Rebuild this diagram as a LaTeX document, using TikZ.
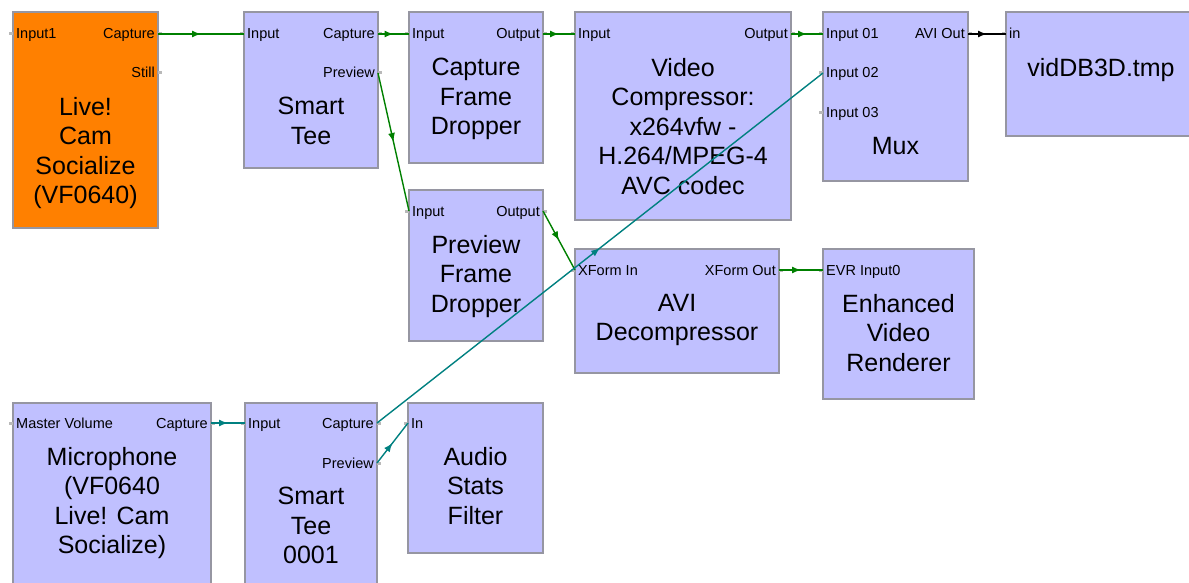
\documentclass[tikz,border=0pt]{standalone}
\usepackage{fontspec}
\setmainfont{Liberation Sans}
\usetikzlibrary{arrows.meta,decorations.markings,calc}

\definecolor{filterfill}{RGB}{192,192,255}
\definecolor{sourcefill}{RGB}{255,128,0}
\definecolor{boxedge}{RGB}{150,150,162}
\definecolor{videolink}{RGB}{0,128,0}
\definecolor{audiolink}{RGB}{0,128,128}

\tikzset{
	filterbox/.style={draw=boxedge, line width=1.2pt, fill=filterfill, anchor=north west, inner sep=0pt, outer sep=0pt},
	portlabel/.style={font=\fontsize{14.5}{16}\selectfont, inner sep=0pt},
	inlabel/.style={portlabel, anchor=base west},
	outlabel/.style={portlabel, anchor=base east},
	filtername/.style={font=\fontsize{25}{29.5}\selectfont, align=center, anchor=north, inner sep=0pt},
	portstub/.style={draw=gray!55, line width=3pt},
	link/.style={line width=1.4pt, postaction={decorate},
		decoration={markings, mark=at position 0.5 with {\arrow{Latex[length=9pt,width=7pt]}}}},
}

\begin{document}
\begin{tikzpicture}[x=1pt, y=-1pt]
	\useasboundingbox (0,0) rectangle (1189,583);
	\clip (0,0) rectangle (1189,583);

	% filters (top left corner, size)
	\node[filterbox, fill=sourcefill, minimum width=145pt, minimum height=216pt] (cam) at (13,12) {};
	\node[filterbox, minimum width=134pt, minimum height=156pt] (tee) at (244,12) {};
	\node[filterbox, minimum width=134pt, minimum height=151pt] (cfd) at (409,12) {};
	\node[filterbox, minimum width=216pt, minimum height=208pt] (vc) at (575,12) {};
	\node[filterbox, minimum width=145pt, minimum height=169pt] (mux) at (823,12) {};
	\node[filterbox, minimum width=200pt, minimum height=124pt] (file) at (1006,12) {};
	\node[filterbox, minimum width=134pt, minimum height=151pt] (pfd) at (409,190) {};
	\node[filterbox, minimum width=204pt, minimum height=124pt] (avi) at (575,249) {};
	\node[filterbox, minimum width=151pt, minimum height=150pt] (evr) at (823,249) {};
	\node[filterbox, minimum width=198pt, minimum height=200pt] (mic) at (13,403) {};
	\node[filterbox, minimum width=132pt, minimum height=200pt] (teeb) at (245,403) {};
	\node[filterbox, minimum width=135pt, minimum height=150pt] (stats) at (408,403) {};

	% pins
	\coordinate (cam-in) at ([yshift=-22pt]cam.north west);
	\coordinate (cam-cap) at ([yshift=-22pt]cam.north east);
	\coordinate (cam-still) at ([yshift=-61pt]cam.north east);
	\coordinate (tee-in) at ([yshift=-22pt]tee.north west);
	\coordinate (tee-cap) at ([yshift=-22pt]tee.north east);
	\coordinate (tee-prev) at ([yshift=-61pt]tee.north east);
	\coordinate (cfd-in) at ([yshift=-22pt]cfd.north west);
	\coordinate (cfd-out) at ([yshift=-22pt]cfd.north east);
	\coordinate (vc-in) at ([yshift=-22pt]vc.north west);
	\coordinate (vc-out) at ([yshift=-22pt]vc.north east);
	\coordinate (mux-in1) at ([yshift=-22pt]mux.north west);
	\coordinate (mux-in2) at ([yshift=-61pt]mux.north west);
	\coordinate (mux-in3) at ([yshift=-101pt]mux.north west);
	\coordinate (mux-out) at ([yshift=-22pt]mux.north east);
	\coordinate (file-in) at ([yshift=-22pt]file.north west);
	\coordinate (pfd-in) at ([yshift=-21pt]pfd.north west);
	\coordinate (pfd-out) at ([yshift=-21pt]pfd.north east);
	\coordinate (avi-in) at ([yshift=-21pt]avi.north west);
	\coordinate (avi-out) at ([yshift=-21pt]avi.north east);
	\coordinate (evr-in) at ([yshift=-21pt]evr.north west);
	\coordinate (mic-in) at ([yshift=-20pt]mic.north west);
	\coordinate (mic-cap) at ([yshift=-20pt]mic.north east);
	\coordinate (teeb-in) at ([yshift=-20pt]teeb.north west);
	\coordinate (teeb-cap) at ([yshift=-20pt]teeb.north east);
	\coordinate (teeb-prev) at ([yshift=-60pt]teeb.north east);
	\coordinate (stats-in) at ([yshift=-20pt]stats.north west);

	\foreach \p in {cam-in, tee-in, cfd-in, vc-in, mux-in1, mux-in2, mux-in3, file-in,
		pfd-in, avi-in, evr-in, mic-in, teeb-in, stats-in}
		\draw[portstub] (\p) -- ++(-4,0);
	\foreach \p in {cam-cap, cam-still, tee-cap, tee-prev, cfd-out, vc-out, mux-out,
		pfd-out, avi-out, mic-cap, teeb-cap, teeb-prev}
		\draw[portstub] (\p) -- ++(4,0);

	% pin labels
	\node[inlabel] (cam-in-l) at ([xshift=3pt,yshift=-5pt]cam-in) {Input1};
	\node[outlabel] (cam-cap-l) at ([xshift=-3pt,yshift=-5pt]cam-cap) {Capture};
	\node[outlabel] (cam-still-l) at ([xshift=-3pt,yshift=-5pt]cam-still) {Still};
	\node[inlabel] (tee-in-l) at ([xshift=3pt,yshift=-5pt]tee-in) {Input};
	\node[outlabel] (tee-cap-l) at ([xshift=-3pt,yshift=-5pt]tee-cap) {Capture};
	\node[outlabel] (tee-prev-l) at ([xshift=-3pt,yshift=-5pt]tee-prev) {Preview};
	\node[inlabel] (cfd-in-l) at ([xshift=3pt,yshift=-5pt]cfd-in) {Input};
	\node[outlabel] (cfd-out-l) at ([xshift=-3pt,yshift=-5pt]cfd-out) {Output};
	\node[inlabel] (vc-in-l) at ([xshift=3pt,yshift=-5pt]vc-in) {Input};
	\node[outlabel] (vc-out-l) at ([xshift=-3pt,yshift=-5pt]vc-out) {Output};
	\node[inlabel] (mux-in1-l) at ([xshift=3pt,yshift=-5pt]mux-in1) {Input 01};
	\node[inlabel] (mux-in2-l) at ([xshift=3pt,yshift=-5pt]mux-in2) {Input 02};
	\node[inlabel] (mux-in3-l) at ([xshift=3pt,yshift=-5pt]mux-in3) {Input 03};
	\node[outlabel] (mux-out-l) at ([xshift=-3pt,yshift=-5pt]mux-out) {AVI Out};
	\node[inlabel] (file-in-l) at ([xshift=3pt,yshift=-5pt]file-in) {in};
	\node[inlabel] (pfd-in-l) at ([xshift=3pt,yshift=-5pt]pfd-in) {Input};
	\node[outlabel] (pfd-out-l) at ([xshift=-3pt,yshift=-5pt]pfd-out) {Output};
	\node[inlabel] (avi-in-l) at ([xshift=3pt,yshift=-5pt]avi-in) {XForm In};
	\node[outlabel] (avi-out-l) at ([xshift=-3pt,yshift=-5pt]avi-out) {XForm Out};
	\node[inlabel] (evr-in-l) at ([xshift=3pt,yshift=-5pt]evr-in) {EVR Input0};
	\node[inlabel] (mic-in-l) at ([xshift=3pt,yshift=-5pt]mic-in) {Master Volume};
	\node[outlabel] (mic-cap-l) at ([xshift=-3pt,yshift=-5pt]mic-cap) {Capture};
	\node[inlabel] (teeb-in-l) at ([xshift=3pt,yshift=-5pt]teeb-in) {Input};
	\node[outlabel] (teeb-cap-l) at ([xshift=-3pt,yshift=-5pt]teeb-cap) {Capture};
	\node[outlabel] (teeb-prev-l) at ([xshift=-3pt,yshift=-5pt]teeb-prev) {Preview};
	\node[inlabel] (stats-in-l) at ([xshift=3pt,yshift=-5pt]stats-in) {In};

	% filter names, just under the last pin row
	\node[filtername] (cam-t) at ($(cam.north |- cam-still) + (0,24)$) {Live!\\Cam\\Socialize\\(VF0640)};
	\node[filtername] (tee-t) at ($(tee.north |- tee-prev) + (0,24)$) {Smart\\Tee};
	\node[filtername] (cfd-t) at ($(cfd.north |- cfd-out) + (0,24)$) {Capture\\Frame\\Dropper};
	\node[filtername] (vc-t) at ($(vc.north |- vc-out) + (0,24)$) {Video\\Compressor:\\x264vfw -\\H.264/MPEG-4\\AVC codec};
	\node[filtername] (mux-t) at ($(mux.north |- mux-in3) + (0,24)$) {Mux};
	\node[filtername] (file-t) at ($(file.north |- file-in) + (-5,24)$) {vidDB3D.tmp};
	\node[filtername] (pfd-t) at ($(pfd.north |- pfd-out) + (0,24)$) {Preview\\Frame\\Dropper};
	\node[filtername] (avi-t) at ($(avi.north |- avi-out) + (0,24)$) {AVI\\Decompressor};
	\node[filtername] (evr-t) at ($(evr.north |- evr-in) + (0,24)$) {Enhanced\\Video\\Renderer};
	\node[filtername] (mic-t) at ($(mic.north |- mic-cap) + (0,24)$) {Microphone\\(VF0640\\Live! Cam\\Socialize)};
	\node[filtername] (teeb-t) at ($(teeb.north |- teeb-prev) + (0,24)$) {Smart\\Tee\\0001};
	\node[filtername] (stats-t) at ($(stats.north |- stats-in) + (0,24)$) {Audio\\Stats\\Filter};

	% video connections
	\draw[link, videolink] (cam-cap) -- (tee-in);
	\draw[link, videolink] (tee-cap) -- (cfd-in);
	\draw[link, videolink] (tee-prev) -- (pfd-in);
	\draw[link, videolink] (cfd-out) -- (vc-in);
	\draw[link, videolink] (vc-out) -- (mux-in1);
	\draw[link, videolink] (pfd-out) -- (avi-in);
	\draw[link, videolink] (avi-out) -- (evr-in);
	% file output
	\draw[link, black] (mux-out) -- (file-in);
	% audio connections
	\draw[link, audiolink] (mic-cap) -- (teeb-in);
	\draw[link, audiolink] (teeb-cap) -- (mux-in2);
	\draw[link, audiolink] (teeb-prev) -- (stats-in);
\end{tikzpicture}
\end{document}
